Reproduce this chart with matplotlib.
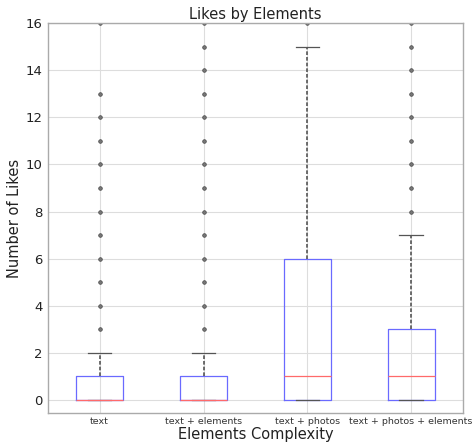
import matplotlib
matplotlib.use("Agg")
import matplotlib.pyplot as plt

# box statistics per element group (number of likes)
groups = ["text", "text + elements", "text + photos", "text + photos + elements"]
q1 = [0, 0, 0, 0]
medians = [0, 0, 1, 1]
q3 = [1, 1, 6, 3]
whis_lo = [0, 0, 0, 0]
whis_hi = [2, 2, 15, 7]
fliers = [
    [3, 4, 5, 6, 7, 8, 9, 10, 11, 12, 13, 16],
    [3, 4, 5, 6, 7, 8, 9, 10, 11, 12, 13, 14, 15, 16],
    [16],
    [8, 9, 10, 11, 12, 13, 14, 15, 16],
]

stats = []
for i in range(len(groups)):
    stats.append({"label": groups[i], "q1": q1[i], "med": medians[i], "q3": q3[i],
                  "whislo": whis_lo[i], "whishi": whis_hi[i], "fliers": fliers[i]})

fig = plt.figure(figsize=(4.73, 4.44), dpi=100)
ax = fig.add_axes([0.101, 0.070, 0.878, 0.878])

ax.grid(True, color="#dddddd", linewidth=0.8)
ax.set_axisbelow(True)

ax.bxp(stats, widths=0.45,
       boxprops=dict(color="#6a6aff", linewidth=0.9),
       medianprops=dict(color="#ff6a6a", linewidth=0.9),
       whiskerprops=dict(color="#555555", linestyle=(0, (2.2, 1.2)), linewidth=1.2),
       capprops=dict(color="#555555", linewidth=0.9),
       flierprops=dict(marker="o", markersize=2.6, markerfacecolor="#777777",
                       markeredgecolor="#444444", markeredgewidth=0.5))

ax.set_ylim(-0.55, 16)
ax.set_xlim(0.5, 4.5)
ax.set_yticks(range(0, 17, 2))
ax.tick_params(axis="y", labelsize=9.5, length=0, pad=3.5, labelcolor="#222222")
ax.tick_params(axis="x", labelsize=6.8, length=0, pad=3, labelcolor="#333333")
for s in ax.spines.values():
    s.set_color("#aaaaaa")
    s.set_linewidth(1.0)

ax.set_title("Likes by Elements", fontsize=10.5, color="#222222", pad=3)
ax.set_xlabel("Elements Complexity", fontsize=10.5, color="#222222", labelpad=0.5)
ax.set_ylabel("Number of Likes", fontsize=10.5, color="#222222", labelpad=3)

fig.savefig("out.png", dpi=100)
